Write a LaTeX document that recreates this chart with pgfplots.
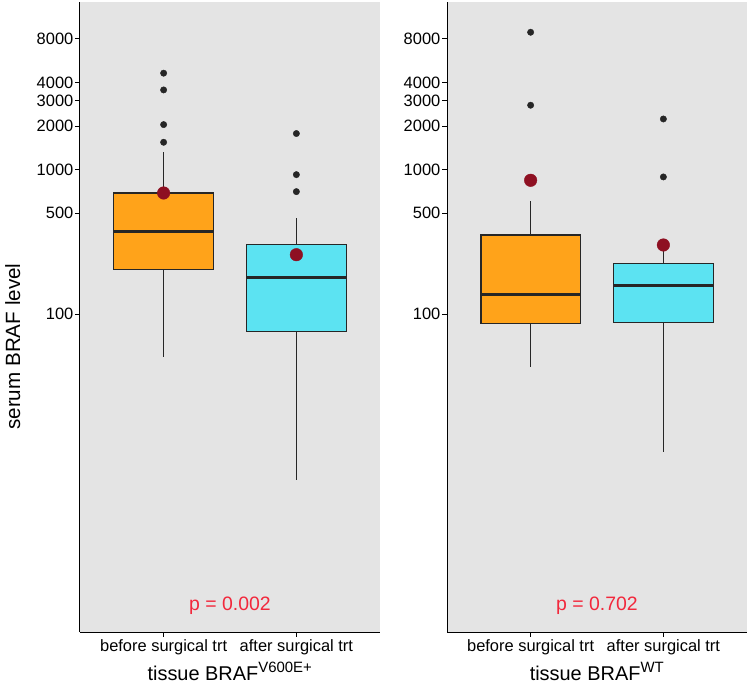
\documentclass[border=0pt]{standalone}
\usepackage{fontspec}
\setmainfont{Liberation Sans}
\usepackage{pgfplots}
\pgfplotsset{compat=1.18}
\definecolor{panelbg}{HTML}{E4E4E4}
\definecolor{boxorange}{HTML}{FFA31A}
\definecolor{boxcyan}{HTML}{5CE3F2}
\definecolor{meanred}{HTML}{8E1022}
\definecolor{pred}{HTML}{F2283C}
\definecolor{outl}{HTML}{262626}
\newcommand{\supfont}{\fontsize{15}{16}\selectfont}
\begin{document}
\begin{tikzpicture}
\useasboundingbox (0,0) rectangle (750bp,684bp);
% left panel
\begin{axis}[at={(80bp,52bp)}, anchor=south west,
  scale only axis, width=300bp, height=630bp,
  ymode=log, ymin=0.63, ymax=14400,
  xmin=0.37, xmax=2.63,
  axis x line*=bottom, axis y line*=left,
  axis line style={black, line width=1bp, -},
  axis background/.style={fill=panelbg, draw=none},
  tick align=outside, major tick length=5bp,
  tick style={black, line width=0.8bp},
  ytick={100,500,1000,2000,3000,4000,8000},
  yticklabels={100,500,1000,2000,3000,4000,8000},
  minor ytick={},
  xtick={1,2}, xticklabels={before surgical trt, after surgical trt},
  ticklabel style={font=\fontsize{16.5}{18}\selectfont, text=black},
  yticklabel style={inner sep=1.5bp},
  xticklabel style={inner sep=2bp},
  /pgf/number format/assume math mode=true,
  xlabel style={at={(axis description cs:0.5,0)}, anchor=base, yshift=-48bp,
    font=\fontsize{20}{22}\selectfont, inner sep=0pt},
  ylabel style={at={(axis description cs:-0.2,0.453)}, anchor=base,
    font=\fontsize{20.7}{23}\selectfont, inner sep=0pt},
  clip=false,
  xlabel={tissue BRAF\textsuperscript{\supfont V600E+}},
  ylabel={serum BRAF level}]
% whiskers
\addplot[outl, line width=1.3bp] coordinates {(1,50.7) (1,204)};
\addplot[outl, line width=1.3bp] coordinates {(1,687) (1,1328)};
\addplot[outl, line width=1.3bp] coordinates {(2,7.1) (2,75.9)};
\addplot[outl, line width=1.3bp] coordinates {(2,303) (2,459)};
% boxes
\addplot[fill=boxorange, draw=outl, line width=1.3bp] coordinates {(0.625,204) (1.375,204) (1.375,687) (0.625,687)} -- cycle;
\addplot[fill=boxcyan, draw=outl, line width=1.3bp] coordinates {(1.625,75.9) (2.375,75.9) (2.375,303) (1.625,303)} -- cycle;
% medians
\addplot[outl, line width=3bp] coordinates {(0.625,371) (1.375,371)};
\addplot[outl, line width=3bp] coordinates {(1.625,180) (2.375,180)};
% outliers
\addplot[only marks, mark=*, mark size=3.2bp, mark options={draw=outl, fill=outl}] coordinates {(1,4634) (1,3548) (1,2042) (1,1541) (2,1771) (2,920) (2,702)};
% means
\addplot[only marks, mark=*, mark size=6.3bp, mark options={draw=meanred, fill=meanred}] coordinates {(1,687) (2,257)};
\node[anchor=base, text=pred, font=\fontsize{19.5}{22}\selectfont] at (axis cs:1.5,0.885) {p = 0.002};
\end{axis}
% right panel
\begin{axis}[at={(447bp,52bp)}, anchor=south west,
  scale only axis, width=300bp, height=630bp,
  ymode=log, ymin=0.63, ymax=14400,
  xmin=0.37, xmax=2.63,
  axis x line*=bottom, axis y line*=left,
  axis line style={black, line width=1bp, -},
  axis background/.style={fill=panelbg, draw=none},
  tick align=outside, major tick length=5bp,
  tick style={black, line width=0.8bp},
  ytick={100,500,1000,2000,3000,4000,8000},
  yticklabels={100,500,1000,2000,3000,4000,8000},
  minor ytick={},
  xtick={1,2}, xticklabels={before surgical trt, after surgical trt},
  ticklabel style={font=\fontsize{16.5}{18}\selectfont, text=black},
  yticklabel style={inner sep=1.5bp},
  xticklabel style={inner sep=2bp},
  /pgf/number format/assume math mode=true,
  xlabel style={at={(axis description cs:0.5,0)}, anchor=base, yshift=-48bp,
    font=\fontsize{20}{22}\selectfont, inner sep=0pt},
  clip=false,
  xlabel={tissue BRAF\textsuperscript{\supfont WT}}]
% whiskers
\addplot[outl, line width=1.3bp] coordinates {(1,43.2) (1,86.2)};
\addplot[outl, line width=1.3bp] coordinates {(1,352) (1,605)};
\addplot[outl, line width=1.3bp] coordinates {(2,11.1) (2,87.6)};
\addplot[outl, line width=1.3bp] coordinates {(2,223) (2,275)};
% boxes
\addplot[fill=boxorange, draw=outl, line width=1.3bp] coordinates {(0.625,86.2) (1.375,86.2) (1.375,352) (0.625,352)} -- cycle;
\addplot[fill=boxcyan, draw=outl, line width=1.3bp] coordinates {(1.625,87.6) (2.375,87.6) (2.375,223) (1.625,223)} -- cycle;
% medians
\addplot[outl, line width=3bp] coordinates {(0.625,137) (1.375,137)};
\addplot[outl, line width=3bp] coordinates {(1.625,158) (2.375,158)};
% outliers
\addplot[only marks, mark=*, mark size=3.2bp, mark options={draw=outl, fill=outl}] coordinates {(1,8892) (1,2781) (2,2234) (2,887)};
% means
\addplot[only marks, mark=*, mark size=6.3bp, mark options={draw=meanred, fill=meanred}] coordinates {(1,841) (2,300)};
\node[anchor=base, text=pred, font=\fontsize{19.5}{22}\selectfont] at (axis cs:1.5,0.885) {p = 0.702};
\end{axis}
\end{tikzpicture}
\end{document}
